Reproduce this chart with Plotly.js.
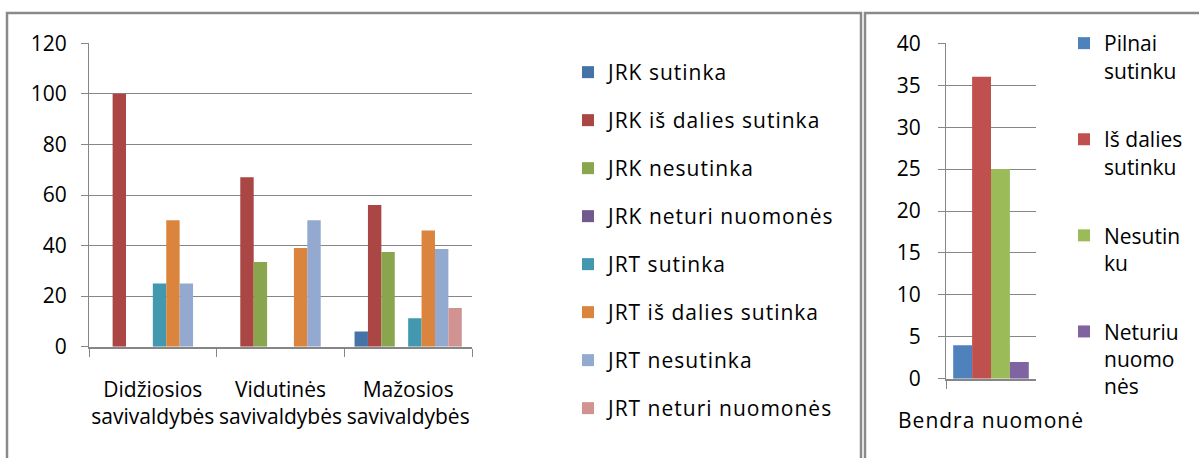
<!DOCTYPE html>
<html>
<head>
<meta charset="utf-8">
<script src="https://cdn.plot.ly/plotly-3.0.1.min.js"></script>
<style>
html,body{margin:0;padding:0;background:#fff;}
#chart{width:1199px;height:458px;}
.legendtext{letter-spacing:1px;}
.x2tick text{letter-spacing:1px;}
</style>
</head>
<body>
<div id="chart"></div>
<script>
// ---- Left chart data ----
const categories = ['Didžiosios<br>savivaldybės', 'Vidutinės<br>savivaldybės', 'Mažosios<br>savivaldybės'];
const seriesNames = ['JRK sutinka', 'JRK iš dalies sutinka', 'JRK nesutinka', 'JRK neturi nuomonės',
                     'JRT sutinka', 'JRT iš dalies sutinka', 'JRT nesutinka', 'JRT neturi nuomonės'];
const jrkSutinka   = [0, 0, 6];
const jrkIsDalies  = [100, 67, 56];
const jrkNesutinka = [0, 33.5, 37.5];
const jrkNeturi    = [0, 0, 0];
const jrtSutinka   = [25, 0, 11.3];
const jrtIsDalies  = [50, 39, 46];
const jrtNesutinka = [25, 50, 38.6];
const jrtNeturi    = [0, 0, 15.3];
const leftTicks = [0, 20, 40, 60, 80, 100, 120];

// ---- Right chart data ----
const overallCategory = ['Bendra nuomonė'];
const overallNames = ['Pilnai<br>sutinku', 'Iš dalies<br>sutinku', 'Nesutin<br>ku', 'Neturiu<br>nuomo<br>nės'];
const pilnaiSutinku = [4];
const isDaliesSutinku = [36];
const nesutinku = [25];
const neturiuNuomones = [2];
const rightTicks = [0, 5, 10, 15, 20, 25, 30, 35, 40];

const leftColors = ['#4572A7', '#AA4643', '#89A54E', '#71588F', '#4198AF', '#DB843D', '#93A9CF', '#D19392'];
const rightColors = ['#4F81BD', '#C0504D', '#9BBB59', '#8064A2'];

const W = 1199, H = 458;
const px = x => x / W;
const py = y => 1 - y / H;

const FONT = '"Open Sans", Lato, sans-serif';
const FS = 21;
const GRID = '#868686';

const leftValues = [jrkSutinka, jrkIsDalies, jrkNesutinka, jrkNeturi, jrtSutinka, jrtIsDalies, jrtNesutinka, jrtNeturi];
const traces = [];
leftValues.forEach((vals, i) => {
  traces.push({
    type: 'bar', x: categories, y: vals, name: seriesNames[i],
    marker: {color: leftColors[i]}, xaxis: 'x', yaxis: 'y',
    legend: 'legend', legendgroup: 'L' + i, hoverinfo: 'none'
  });
});
const rightValues = [pilnaiSutinku, isDaliesSutinku, nesutinku, neturiuNuomones];
rightValues.forEach((vals, i) => {
  traces.push({
    type: 'bar', x: overallCategory, y: vals, name: overallNames[i],
    marker: {color: rightColors[i]}, xaxis: 'x2', yaxis: 'y2',
    legend: 'legend2', legendgroup: 'R' + i, hoverinfo: 'none'
  });
});

const yCommon = {
  showgrid: true, gridcolor: GRID, gridwidth: 1,
  showline: true, linecolor: GRID, linewidth: 1,
  ticks: 'outside', ticklen: 7, tickcolor: GRID,
  zeroline: false, tickfont: {family: FONT, size: FS, color: '#000'}, fixedrange: true
};
const xCommon = {
  type: 'category', showline: true, linecolor: GRID, linewidth: 2,
  ticks: 'outside', tickson: 'boundaries', ticklen: 8, tickcolor: GRID, tickangle: 0,
  showgrid: false, tickfont: {family: FONT, size: FS, color: '#000'}, fixedrange: true
};

const layout = {
  width: W, height: H,
  margin: {l: 0, r: 0, t: 0, b: 0, pad: 0, autoexpand: false},
  paper_bgcolor: '#fff', plot_bgcolor: 'rgba(0,0,0,0)',
  font: {family: FONT, size: FS, color: '#000'},
  barmode: 'group', bargap: 0.16, bargroupgap: 0,
  showlegend: true,
  xaxis: Object.assign({}, xCommon, {domain: [px(89), px(472)], anchor: 'y', ticklabelstandoff: 23}),
  yaxis: Object.assign({}, yCommon, {domain: [py(346.7), py(43.3)], range: [0, 120], tickvals: leftTicks, anchor: 'x', ticklabelstandoff: 10}),
  xaxis2: Object.assign({}, xCommon, {domain: [px(946), px(1036)], anchor: 'y2', ticklabelstandoff: 22}),
  yaxis2: Object.assign({}, yCommon, {domain: [py(378.7), py(43.3)], range: [0, 40], tickvals: rightTicks, anchor: 'x2', ticklabelstandoff: 13}),
  legend: {
    x: px(568), y: py(52), xanchor: 'left', yanchor: 'top',
    bgcolor: 'rgba(0,0,0,0)', borderwidth: 0, traceorder: 'grouped', tracegroupgap: 17.7,
    font: {family: FONT, size: FS, color: '#000'}
  },
  legend2: {
    x: px(1064), y: py(23), xanchor: 'left', yanchor: 'top',
    bgcolor: 'rgba(0,0,0,0)', borderwidth: 0, traceorder: 'grouped', tracegroupgap: 38.5, valign: 'top',
    font: {family: FONT, size: FS, color: '#000'}
  },
  shapes: [
    {type: 'rect', xref: 'paper', yref: 'paper', x0: px(7), x1: px(861), y0: -0.05, y1: py(13),
     line: {color: '#8a8a8a', width: 2.5}, fillcolor: 'rgba(0,0,0,0)'},
    {type: 'rect', xref: 'paper', yref: 'paper', x0: px(865), x1: 1.05, y0: -0.05, y1: py(13),
     line: {color: '#8a8a8a', width: 2.5}, fillcolor: 'rgba(0,0,0,0)'}
  ]
};

Plotly.newPlot('chart', traces, layout, {staticPlot: true, displayModeBar: false});
</script>
</body>
</html>
